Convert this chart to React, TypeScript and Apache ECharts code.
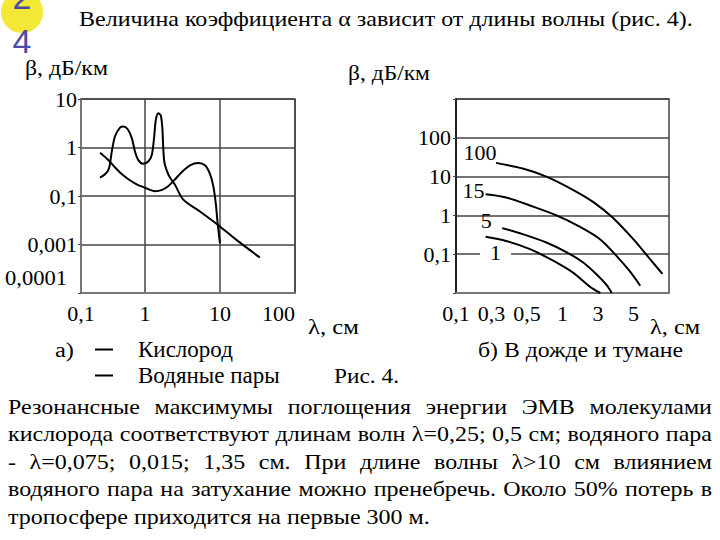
import React, { useEffect, useRef } from "react";
import * as echarts from "echarts";

// ---------- data (left figure: absorption in gases) ----------
const LEFT_X_MIN = 0.14; // left edge of the drawn frame (labelled "0,1" in the figure)
const LEFT_X_LABELS: Record<number, string> = { [-1]: "0,1", 0: "1", 1: "10", 2: "100" };
const LEFT_Y_LABELS: Record<number, string> = { 1: "10", 0: "1", [-1]: "0,1", [-2]: "0,001", [-3]: "" };

const OXY_LAMBDA = [0.251, 0.293, 0.331, 0.36, 0.398, 0.464, 0.514, 0.588, 0.665, 0.736, 0.814, 0.949, 1.11, 1.23, 1.32, 1.39, 1.5, 1.62, 1.7, 1.75, 1.81, 1.95, 2.15, 2.51, 3.24, 5.4, 9.5, 16.7, 34];
const OXY_BETA = [0.24, 0.28, 0.375, 0.82, 1.71, 2.58, 2.7, 2.38, 1.58, 0.82, 0.55, 0.46, 0.52, 0.7, 1.58, 3.6, 5.1, 4.6, 2.58, 0.97, 0.5, 0.335, 0.24, 0.17, 0.084, 0.048, 0.025, 0.0123, 0.0054];

const VAPOR_LAMBDA = [0.251, 0.321, 0.398, 0.489, 0.599, 0.775, 1.0, 1.36, 1.69, 2.03, 2.44, 3.08, 3.98, 5.14, 6.3, 7.36, 8.14, 8.77, 9.31, 10];
const VAPOR_BETA = [0.78, 0.56, 0.39, 0.284, 0.222, 0.174, 0.148, 0.126, 0.134, 0.159, 0.21, 0.31, 0.43, 0.48, 0.43, 0.284, 0.16, 0.071, 0.027, 0.0105];

// ---------- data (right figure: rain and fog) ----------
const RAIN_X_TICKS = [0.1, 0.3, 0.5, 1, 3, 5, 10];
const RAIN_X_LABELS = ["0,1", "0,3", "0,5", "1", "3", "5", ""];
const RAIN_Y_LABELS: Record<number, string> = { 3: "", 2: "100", 1: "10", 0: "1", [-1]: "0,1", [-2]: "" };

const R100_LAMBDA = [0.32, 0.47, 0.73, 1.4, 2.6, 3.7, 5.0, 6.9, 8.8];
const R100_BETA = [22.6, 16.1, 10, 4.5, 2.2, 0.88, 0.24, 0.075, 0.031];
const R15_LAMBDA = [0.25, 0.37, 0.53, 0.89, 1.7, 3.1, 3.9, 4.75, 5.7];
const R15_BETA = [3.5, 2.9, 1.8, 1.0, 0.51, 0.24, 0.092, 0.036, 0.0154];
const R5_LAMBDA = [0.35, 0.47, 0.73, 1.14, 1.9, 2.88, 3.4, 3.66];
const R5_BETA = [0.47, 0.33, 0.2, 0.112, 0.061, 0.03, 0.016, 0.01];
const R1_LAMBDA = [0.25, 0.37, 0.53, 0.84, 1.4, 2.34, 3.1];
const R1_BETA = [0.28, 0.22, 0.135, 0.067, 0.033, 0.0145, 0.01];

const RAIN_NAMES = ["100", "15", "5", "1"];

// ---------- texts ----------
const TITLE = "Величина коэффициента α зависит от длины волны (рис. 4).";
const Y_NAME = "β, дБ/км";
const X_NAME = "λ, см";
const LEGEND_NAMES = ["Кислород", "Водяные пары"];
const PARAGRAPH = [
  "Резонансные максимумы поглощения энергии ЭМВ молекулами",
  "кислорода соответствуют длинам волн λ=0,25; 0,5 см; водяного пара",
  "- λ=0,075; 0,015; 1,35 см. При длине волны λ>10 см влиянием",
  "водяного пара на затухание можно пренебречь. Около 50% потерь в",
  "тропосфере приходится на первые 300 м.",
];

const SERIF = "'Liberation Serif', 'Times New Roman', serif";

function rainPos(l: number): number {
  const t = RAIN_X_TICKS;
  for (let i = 0; i < t.length - 1; i++) {
    if (l <= t[i + 1] || i === t.length - 2) {
      return i + (Math.log10(l) - Math.log10(t[i])) / (Math.log10(t[i + 1]) - Math.log10(t[i]));
    }
  }
  return t.length - 1;
}

let ctx: CanvasRenderingContext2D | null = null;
function measure(text: string, font: string): number {
  if (!ctx) ctx = document.createElement("canvas").getContext("2d");
  ctx!.font = font;
  return ctx!.measureText(text).width;
}
function fontOf(size: number) {
  return `${size}px ${SERIF}`;
}
function fitText(text: string, size: number, x0: number, x1: number, y: number) {
  const font = fontOf(size);
  const w = measure(text, font);
  return {
    type: "text",
    x: x0,
    y,
    scaleX: (x1 - x0) / w,
    style: { text, font, fill: "#000", align: "left", verticalAlign: "middle" },
  };
}
function justify(text: string, size: number, x0: number, x1: number, y: number, s: number) {
  const font = fontOf(size);
  const words = text.split(" ");
  const ws = words.map((w) => measure(w, font) * s);
  const total = ws.reduce((a, b) => a + b, 0);
  const gap = (x1 - x0 - total) / (words.length - 1);
  let x = x0;
  return words.map((w, i) => {
    const el = {
      type: "text",
      x,
      y,
      scaleX: s,
      style: { text: w, font, fill: "#000", align: "left", verticalAlign: "middle" },
    };
    x += ws[i] + gap;
    return el;
  });
}

function buildOption() {
  const labelFont = { fontFamily: SERIF, fontSize: 22, color: "#000" };
  const axisLine = { show: true, onZero: false, lineStyle: { color: "#777", width: 2 } };
  const splitLine = { show: true, lineStyle: { color: "#444", width: 1.5 } };
  const expOf = (v: number) => Math.round(Math.log10(v));

  const paraSize = 20;
  const lastW = measure(PARAGRAPH[4], fontOf(paraSize));
  const s = 422 / lastW;
  const paraY = [407, 434.5, 462, 489.5, 517];
  const paraEls: any[] = [];
  for (let i = 0; i < 4; i++) paraEls.push(...justify(PARAGRAPH[i], paraSize, 8, 712, paraY[i], s));
  paraEls.push({
    type: "text",
    x: 8,
    y: paraY[4],
    scaleX: s,
    style: { text: PARAGRAPH[4], font: fontOf(paraSize), fill: "#000", align: "left", verticalAlign: "middle" },
  });

  const rainSets = [
    { l: R100_LAMBDA, b: R100_BETA, off: [-16, -10] },
    { l: R15_LAMBDA, b: R15_BETA, off: [-12, -4] },
    { l: R5_LAMBDA, b: R5_BETA, off: [-16, -8] },
    { l: R1_LAMBDA, b: R1_BETA, off: [10, 16] },
  ];

  const rainSeries = rainSets.map((r, k) => {
    const data = r.l.map((l, i) => [rainPos(l), r.b[i]]);
    return {
      name: RAIN_NAMES[k],
      type: "line",
      xAxisIndex: 1,
      yAxisIndex: 1,
      data,
      smooth: 0.3,
      symbol: "none",
      showSymbol: false,
      lineStyle: { color: "#000", width: 2 },
      itemStyle: { color: "#000" },
      markPoint: {
        symbol: "circle",
        symbolSize: 1,
        silent: true,
        itemStyle: { color: "rgba(0,0,0,0)" },
        label: {
          show: true,
          position: "inside",
          formatter: RAIN_NAMES[k],
          offset: r.off,
          ...labelFont,
          ...(k === 3 ? { backgroundColor: "#fff", padding: [0, 10], lineHeight: 18 } : {}),
        },
        data: [{ coord: data[0] }],
      },
    };
  });

  return {
    animation: false,
    backgroundColor: "#fff",
    legend: {
      orient: "vertical",
      left: 95,
      top: 338,
      padding: 0,
      itemWidth: 18,
      itemHeight: 2,
      itemGap: 3,
      icon: "rect",
      data: LEGEND_NAMES,
      textStyle: { fontFamily: SERIF, fontSize: 23, color: "#000", padding: [0, 0, 0, 20] },
      selectedMode: false,
    },
    grid: [
      { left: 81, top: 99, width: 214, height: 194, show: true, borderColor: "#444", borderWidth: 1.5 },
      { left: 456, top: 99, width: 213, height: 194, show: true, borderColor: "#444", borderWidth: 1.5 },
    ],
    xAxis: [
      {
        gridIndex: 0,
        type: "log",
        logBase: 10,
        min: LEFT_X_MIN,
        max: 100,
        axisLine,
        axisTick: { show: false },
        axisLabel: {
          ...labelFont,
          margin: 9,
          alignMaxLabel: "right",
          formatter: (v: number) => LEFT_X_LABELS[expOf(v)] ?? "",
        },
        splitLine,
      },
      {
        gridIndex: 1,
        type: "value",
        min: 0,
        max: 6,
        interval: 1,
        axisLine,
        axisTick: { show: false },
        axisLabel: { ...labelFont, margin: 9, formatter: (v: number) => RAIN_X_LABELS[Math.round(v)] ?? "" },
        splitLine: { show: false },
      },
    ],
    yAxis: [
      {
        gridIndex: 0,
        type: "log",
        logBase: 10,
        min: 0.001,
        max: 10,
        axisLine,
        axisTick: { show: true, length: 3, lineStyle: { color: "#444" } },
        axisLabel: { ...labelFont, margin: 4, formatter: (v: number) => LEFT_Y_LABELS[expOf(v)] ?? "" },
        splitLine,
      },
      {
        gridIndex: 1,
        type: "log",
        logBase: 10,
        min: 0.01,
        max: 1000,
        axisLine: { show: true, onZero: false, lineStyle: { color: "#222", width: 2 } },
        axisTick: { show: true, length: 3, lineStyle: { color: "#444" } },
        axisLabel: { ...labelFont, margin: 5, formatter: (v: number) => RAIN_Y_LABELS[expOf(v)] ?? "" },
        splitLine,
      },
    ],
    series: [
      {
        name: LEGEND_NAMES[0],
        type: "line",
        xAxisIndex: 0,
        yAxisIndex: 0,
        data: OXY_LAMBDA.map((l, i) => [l, OXY_BETA[i]]),
        smooth: 0.3,
        symbol: "none",
        showSymbol: false,
        lineStyle: { color: "#000", width: 2 },
        itemStyle: { color: "#000" },
      },
      {
        name: LEGEND_NAMES[1],
        type: "line",
        xAxisIndex: 0,
        yAxisIndex: 0,
        data: VAPOR_LAMBDA.map((l, i) => [l, VAPOR_BETA[i]]),
        smooth: 0.3,
        symbol: "none",
        showSymbol: false,
        lineStyle: { color: "#000", width: 2 },
        itemStyle: { color: "#000" },
      },
      ...rainSeries,
    ],
    graphic: [
      { type: "circle", shape: { cx: 22, cy: 12, r: 21 }, style: { fill: "#f4e836" } },
      {
        type: "text",
        x: 22,
        y: -3,
        style: { text: "2", font: '34px "Liberation Sans"', fill: "#4b4ba6", align: "center", verticalAlign: "middle" },
      },
      {
        type: "text",
        x: 22,
        y: 41,
        style: { text: "4", font: '34px "Liberation Sans"', fill: "#4b4ba6", align: "center", verticalAlign: "middle" },
      },
      fitText(TITLE, 22, 79, 693, 18.5),
      fitText(Y_NAME, 20, 25, 108, 68),
      fitText(Y_NAME, 20, 348, 430, 74),
      fitText(X_NAME, 20, 308, 359, 327),
      fitText(X_NAME, 20, 650, 700, 327),
      fitText("0,0001", 22, 5, 67, 277.5),
      fitText("а)", 20, 55, 74, 350),
      fitText("б) В дожде и тумане", 20, 478, 683, 350),
      fitText("Рис. 4.", 20, 334, 399, 377),
      ...paraEls,
    ],
  };
}

export default function App() {
  const ref = useRef<HTMLDivElement>(null);
  useEffect(() => {
    const chart = echarts.init(ref.current!, null, { renderer: "svg", width: 720, height: 540 });
    chart.setOption(buildOption() as any);
    return () => chart.dispose();
  }, []);
  return (
    <div
      ref={ref}
      style={{ position: "absolute", left: 0, top: 0, width: 720, height: 540, background: "#fff" }}
    />
  );
}
